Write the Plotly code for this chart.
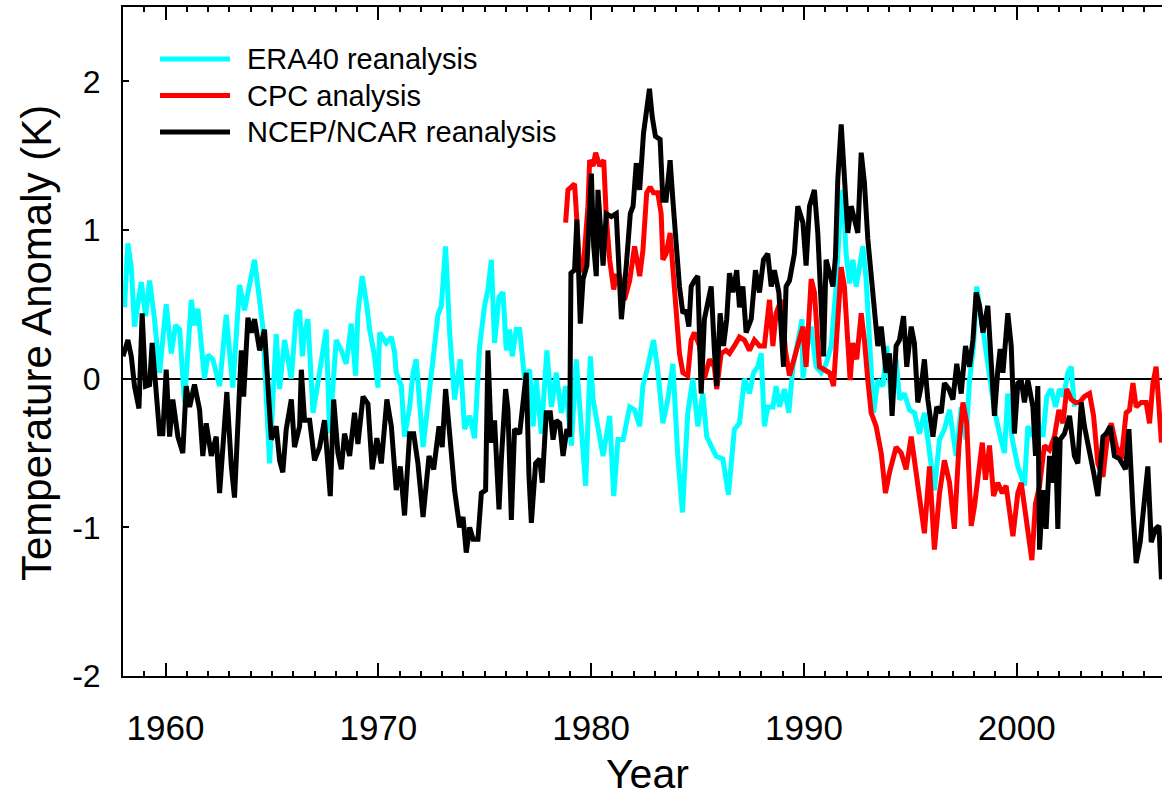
import plotly.graph_objects as go

# ---------------- data ----------------
era40_year = [1958.07, 1958.23, 1958.39, 1958.54, 1958.86, 1959.06, 1959.25, 1959.48, 1959.72, 1960.03,
              1960.27, 1960.47, 1960.66, 1960.89, 1961.21, 1961.36, 1961.52, 1961.83, 1961.99, 1962.22,
              1962.54, 1962.85, 1963.16, 1963.48, 1963.71, 1963.95, 1964.18, 1964.57, 1964.89, 1965.20,
              1965.36, 1965.59, 1965.91, 1966.14, 1966.30, 1966.43, 1966.53, 1966.69, 1966.93, 1967.08,
              1967.24, 1967.55, 1967.71, 1968.02, 1968.26, 1968.49, 1968.73, 1968.93, 1969.04, 1969.24,
              1969.46, 1969.59, 1969.82, 1969.98, 1970.06, 1970.37, 1970.61, 1970.76, 1970.84, 1971.08,
              1971.23, 1971.47, 1971.63, 1971.78, 1972.10, 1972.33, 1972.57, 1972.80, 1972.96, 1973.16,
              1973.35, 1973.58, 1973.85, 1974.05, 1974.29, 1974.52, 1974.76, 1974.99, 1975.15, 1975.31,
              1975.46, 1975.67, 1975.86, 1976.01, 1976.17, 1976.29, 1976.48, 1976.64, 1976.87, 1977.11,
              1977.27, 1977.42, 1977.66, 1977.92, 1978.13, 1978.36, 1978.60, 1978.80, 1979.07, 1979.30,
              1979.54, 1979.74, 1979.96, 1980.09, 1980.37, 1980.56, 1980.87, 1981.06, 1981.26, 1981.50,
              1981.81, 1982.04, 1982.28, 1982.43, 1982.66, 1982.93, 1983.13, 1983.37, 1983.60, 1983.84,
              1984.07, 1984.29, 1984.54, 1984.78, 1985.01, 1985.25, 1985.43, 1985.64, 1985.87, 1986.19,
              1986.45, 1986.73, 1986.97, 1987.20, 1987.44, 1987.63, 1987.83, 1987.99, 1988.14, 1988.30,
              1988.54, 1988.69, 1988.85, 1989.08, 1989.29, 1989.48, 1989.71, 1989.91, 1989.95, 1990.10,
              1990.34, 1990.57, 1990.81, 1991.04, 1991.28, 1991.51, 1991.70, 1991.83, 1991.98, 1992.14,
              1992.30, 1992.45, 1992.61, 1992.77, 1992.92, 1993.08, 1993.27, 1993.47, 1993.71, 1993.89,
              1994.10, 1994.33, 1994.49, 1994.72, 1994.96, 1995.19, 1995.43, 1995.66, 1995.90, 1996.13,
              1996.37, 1996.60, 1996.84, 1997.15, 1997.39, 1997.62, 1997.78, 1997.97, 1998.12, 1998.25,
              1998.33, 1998.48, 1998.72, 1998.95, 1999.19, 1999.42, 1999.58, 1999.79, 2000.05, 2000.36,
              2000.52, 2000.76, 2000.99, 2001.23, 2001.41, 2001.62, 2001.82, 2002.01, 2002.20, 2002.40,
              2002.56, 2002.71]
era40_anom = [0.48, 0.91, 0.75, 0.35, 0.65, 0.42, 0.66, 0.40, 0.04, 0.50,
              0.17, 0.36, 0.33, -0.16, 0.53, 0.36, 0.47, 0.00, 0.16, 0.13,
              -0.05, 0.43, -0.06, 0.63, 0.46, 0.62, 0.80, 0.35, -0.57, 0.30,
              -0.07, 0.26, 0.00, 0.44, 0.46, 0.15, 0.31, 0.40, -0.23, -0.10,
              0.04, 0.33, -0.37, 0.26, 0.19, 0.10, 0.37, 0.02, 0.44, 0.69,
              0.49, 0.33, 0.15, -0.06, 0.31, 0.24, 0.28, 0.18, 0.04, -0.05,
              -0.39, -0.19, 0.04, 0.13, -0.46, -0.14, 0.13, 0.43, 0.49, 0.89,
              0.31, -0.14, 0.13, -0.34, -0.25, -0.40, 0.22, 0.49, 0.60, 0.80,
              0.24, 0.55, 0.58, 0.19, 0.33, 0.15, 0.33, 0.33, 0.00, 0.06,
              -0.32, -0.01, -0.37, 0.19, -0.19, 0.04, -0.23, -0.05, -0.45, 0.13,
              -0.32, -0.72, 0.15, -0.14, -0.37, -0.52, -0.25, -0.79, -0.41, -0.41,
              -0.19, -0.21, -0.32, -0.05, 0.08, 0.26, 0.06, -0.30, -0.14, 0.10,
              -0.52, -0.90, -0.23, 0.00, -0.32, -0.10, -0.39, -0.45, -0.52, -0.54,
              -0.78, -0.34, -0.30, 0.00, -0.10, 0.04, 0.08, 0.17, -0.32, -0.19,
              -0.19, -0.05, -0.19, -0.07, -0.23, 0.08, 0.24, 0.40, 0.00, 0.17,
              0.35, 0.08, 0.04, 0.10, 0.22, 0.62, 1.11, 1.27, 0.84, 0.64,
              0.80, 0.62, 0.75, 0.89, 0.67, 0.31, -0.23, -0.01, -0.05, 0.22,
              -0.14, 0.13, -0.14, -0.10, -0.21, -0.23, -0.37, -0.23, -0.50, -0.75,
              -0.41, -0.34, -0.21, -0.52, -0.19, -0.41, -0.01, 0.22, 0.62, 0.49,
              0.42, 0.24, 0.02, -0.21, -0.37, -0.50, -0.10, -0.41, -0.59, -0.72,
              -0.32, -0.39, -0.30, -0.39, -0.12, -0.07, -0.19, -0.07, -0.12, 0.04,
              0.08, -0.19]

cpc_year = [1978.80, 1978.91, 1979.07, 1979.22, 1979.30, 1979.46, 1979.62, 1979.85, 1979.93, 1980.09,
            1980.21, 1980.40, 1980.59, 1980.71, 1980.87, 1981.06, 1981.18, 1981.34, 1981.57, 1981.81,
            1982.04, 1982.28, 1982.43, 1982.61, 1982.77, 1982.93, 1983.13, 1983.29, 1983.37, 1983.52,
            1983.71, 1983.84, 1983.99, 1984.15, 1984.31, 1984.54, 1984.70, 1984.85, 1985.09, 1985.32,
            1985.56, 1985.79, 1985.90, 1986.11, 1986.34, 1986.50, 1986.73, 1986.97, 1987.20, 1987.44,
            1987.67, 1987.91, 1988.14, 1988.38, 1988.54, 1988.69, 1988.93, 1989.13, 1989.32, 1989.55,
            1989.79, 1989.95, 1990.10, 1990.34, 1990.49, 1990.73, 1990.96, 1991.20, 1991.39, 1991.51,
            1991.75, 1991.90, 1992.06, 1992.17, 1992.30, 1992.48, 1992.69, 1992.84, 1993.00, 1993.16,
            1993.39, 1993.63, 1993.83, 1994.02, 1994.33, 1994.57, 1994.80, 1995.04, 1995.27, 1995.46,
            1995.66, 1995.90, 1996.13, 1996.37, 1996.60, 1996.84, 1997.07, 1997.28, 1997.47, 1997.65,
            1997.86, 1998.01, 1998.25, 1998.38, 1998.53, 1998.72, 1998.91, 1999.11, 1999.32, 1999.50,
            1999.82, 2000.05, 2000.21, 2000.44, 2000.71, 2000.88, 2001.07, 2001.30, 2001.54, 2001.77,
            2001.98, 2002.17, 2002.35, 2002.56, 2002.76, 2002.95, 2003.18, 2003.42, 2003.61, 2003.81,
            2004.05, 2004.23, 2004.44, 2004.67, 2004.91, 2005.14, 2005.30, 2005.46, 2005.61, 2005.85,
            2006.08, 2006.24, 2006.40, 2006.55, 2006.71, 2006.80]
cpc_anom = [1.05, 1.27, 1.29, 1.31, 1.13, 0.73, 0.73, 1.16, 1.47, 1.43,
            1.52, 1.43, 1.47, 1.09, 0.80, 0.60, 0.69, 0.69, 0.53, 0.66,
            0.89, 0.69, 0.86, 1.25, 1.29, 1.25, 1.25, 1.11, 0.80, 0.84,
            0.98, 0.71, 0.44, 0.17, 0.04, 0.02, 0.26, 0.31, 0.22, 0.00,
            0.13, 0.08, -0.07, 0.17, 0.19, 0.17, 0.22, 0.28, 0.26, 0.19,
            0.26, 0.22, 0.22, 0.53, 0.22, 0.44, 0.53, 0.19, 0.02, 0.13,
            0.26, 0.35, 0.08, 0.67, 0.58, 0.08, 0.06, 0.04, -0.05, 0.22,
            0.75, 0.62, 0.26, -0.01, 0.24, 0.13, 0.44, 0.26, -0.01, -0.23,
            -0.32, -0.50, -0.77, -0.63, -0.46, -0.50, -0.61, -0.39, -0.63, -0.84,
            -1.04, -0.59, -1.15, -0.77, -0.55, -0.70, -1.01, -0.46, -0.16, -0.30,
            -0.99, -0.86, -0.59, -0.43, -0.68, -0.45, -0.79, -0.70, -0.77, -0.72,
            -1.06, -0.77, -0.70, -0.97, -1.22, -0.84, -0.72, -0.45, -0.48, -0.39,
            -0.21, -0.30, -0.07, -0.14, -0.16, -0.16, -0.12, -0.10, -0.25, -0.57,
            -0.66, -0.43, -0.30, -0.45, -0.54, -0.23, -0.21, -0.03, -0.19, -0.16,
            -0.16, -0.30, -0.03, 0.08, -0.23, -0.43]

ncep_year = [1958.00, 1958.23, 1958.39, 1958.54, 1958.75, 1958.90, 1959.06, 1959.25, 1959.37, 1959.56,
             1959.72, 1959.87, 1960.03, 1960.19, 1960.34, 1960.58, 1960.81, 1960.97, 1961.13, 1961.36,
             1961.60, 1961.75, 1961.91, 1962.15, 1962.38, 1962.54, 1962.69, 1962.88, 1963.09, 1963.24,
             1963.56, 1963.67, 1963.87, 1964.03, 1964.18, 1964.42, 1964.65, 1964.81, 1964.97, 1965.20,
             1965.36, 1965.51, 1965.67, 1965.91, 1966.06, 1966.30, 1966.38, 1966.53, 1966.77, 1967.00,
             1967.24, 1967.47, 1967.74, 1967.90, 1968.10, 1968.26, 1968.41, 1968.65, 1968.88, 1969.04,
             1969.28, 1969.51, 1969.71, 1969.93, 1970.14, 1970.40, 1970.61, 1970.84, 1971.03, 1971.23,
             1971.47, 1971.66, 1971.86, 1972.10, 1972.38, 1972.60, 1972.85, 1973.00, 1973.16, 1973.35,
             1973.58, 1973.82, 1973.98, 1974.13, 1974.29, 1974.45, 1974.68, 1974.84, 1975.04, 1975.15,
             1975.31, 1975.46, 1975.67, 1975.78, 1975.98, 1976.09, 1976.25, 1976.40, 1976.64, 1976.80,
             1976.95, 1977.08, 1977.19, 1977.39, 1977.58, 1977.70, 1977.89, 1978.08, 1978.21, 1978.36,
             1978.52, 1978.68, 1978.86, 1978.99, 1979.05, 1979.22, 1979.33, 1979.49, 1979.62, 1979.80,
             1980.01, 1980.12, 1980.24, 1980.32, 1980.48, 1980.56, 1980.71, 1980.95, 1981.18, 1981.42,
             1981.65, 1981.84, 1981.97, 1982.12, 1982.28, 1982.46, 1982.61, 1982.74, 1982.87, 1983.02,
             1983.24, 1983.37, 1983.52, 1983.71, 1983.84, 1983.99, 1984.15, 1984.31, 1984.46, 1984.59,
             1984.70, 1984.85, 1985.01, 1985.17, 1985.32, 1985.48, 1985.64, 1985.79, 1985.90, 1986.06,
             1986.22, 1986.37, 1986.50, 1986.66, 1986.84, 1986.97, 1987.13, 1987.28, 1987.52, 1987.72,
             1987.91, 1988.10, 1988.30, 1988.46, 1988.61, 1988.82, 1989.04, 1989.16, 1989.32, 1989.55,
             1989.71, 1989.95, 1990.10, 1990.26, 1990.49, 1990.65, 1990.81, 1990.92, 1991.04, 1991.20,
             1991.36, 1991.48, 1991.59, 1991.75, 1991.90, 1992.06, 1992.22, 1992.37, 1992.53, 1992.69,
             1992.84, 1993.00, 1993.16, 1993.31, 1993.47, 1993.63, 1993.86, 1994.02, 1994.14, 1994.33,
             1994.49, 1994.68, 1994.83, 1995.04, 1995.19, 1995.35, 1995.51, 1995.66, 1995.82, 1996.06,
             1996.24, 1996.45, 1996.60, 1996.81, 1997.00, 1997.18, 1997.39, 1997.59, 1997.78, 1997.94,
             1998.09, 1998.25, 1998.41, 1998.64, 1998.80, 1998.95, 1999.11, 1999.22, 1999.35, 1999.47,
             1999.58, 1999.74, 1999.89, 2000.05, 2000.21, 2000.36, 2000.52, 2000.76, 2000.88, 2000.99,
             2001.07, 2001.23, 2001.38, 2001.54, 2001.70, 2001.82, 2001.93, 2002.04, 2002.24, 2002.48,
             2002.71, 2002.87, 2003.03, 2003.18, 2003.42, 2003.61, 2003.81, 2004.05, 2004.20, 2004.39,
             2004.59, 2004.83, 2005.11, 2005.27, 2005.46, 2005.61, 2005.80, 2006.00, 2006.16, 2006.32,
             2006.52, 2006.68, 2006.80]
ncep_anom = [0.15, 0.26, 0.15, -0.05, -0.20, 0.44, -0.05, -0.04, 0.24, -0.14,
             -0.37, -0.37, 0.06, -0.39, -0.14, -0.39, -0.50, -0.05, -0.19, -0.04,
             -0.21, -0.52, -0.30, -0.52, -0.39, -0.77, -0.46, -0.09, -0.59, -0.80,
             0.19, -0.12, 0.41, 0.31, 0.40, 0.19, 0.33, -0.10, -0.41, -0.32,
             -0.55, -0.63, -0.34, -0.14, -0.46, -0.32, 0.06, -0.28, -0.28, -0.55,
             -0.46, -0.28, -0.79, -0.14, -0.50, -0.61, -0.37, -0.52, -0.23, -0.44,
             -0.12, -0.17, -0.61, -0.40, -0.57, -0.14, -0.32, -0.75, -0.59, -0.92,
             -0.37, -0.37, -0.57, -0.93, -0.52, -0.61, -0.32, -0.46, -0.07, -0.37,
             -0.75, -1.00, -0.93, -1.17, -1.00, -1.08, -1.08, -0.77, -0.75, 0.19,
             -0.43, -0.28, -0.88, -0.54, -0.07, -0.21, -0.95, -0.34, -0.37, -0.16,
             0.04, -0.66, -0.97, -0.57, -0.54, -0.70, -0.23, -0.23, -0.41, -0.28,
             -0.30, -0.52, -0.34, -0.39, 0.71, 0.73, 1.07, 0.37, 0.67, 0.76,
             1.38, 0.89, 0.69, 1.27, 0.89, 0.76, 1.11, 1.09, 1.11, 0.40,
             0.76, 1.11, 1.16, 1.45, 1.27, 1.65, 1.81, 1.95, 1.76, 1.63,
             1.61, 1.20, 1.20, 1.47, 1.20, 0.89, 0.62, 0.44, 0.46, 0.35,
             0.62, 0.66, 0.69, -0.10, 0.40, 0.51, 0.62, 0.19, -0.05, 0.44,
             0.22, 0.40, 0.71, 0.58, 0.73, 0.48, 0.62, 0.31, 0.40, 0.73,
             0.58, 0.80, 0.84, 0.62, 0.73, 0.58, 0.08, 0.62, 0.66, 0.84,
             1.16, 1.05, 0.76, 1.16, 1.27, 0.98, 0.49, 0.15, 0.80, 0.71,
             0.62, 0.82, 1.34, 1.71, 1.34, 0.98, 1.16, 1.07, 0.98, 1.52,
             1.32, 0.94, 0.67, 0.40, 0.22, 0.35, 0.04, 0.17, -0.25, 0.22,
             0.26, 0.42, 0.08, 0.35, 0.24, -0.16, -0.05, 0.13, -0.14, -0.39,
             -0.19, -0.23, -0.03, -0.07, -0.14, 0.10, -0.10, 0.22, 0.08, 0.26,
             0.58, 0.49, 0.31, 0.49, 0.11, -0.25, 0.06, 0.20, 0.04, 0.28,
             0.44, 0.22, -0.37, -0.03, -0.01, -0.16, -0.01, -0.19, -0.52, -0.05,
             -1.15, -0.75, -1.01, -0.52, -0.70, -0.39, -1.01, -0.41, -0.37, -0.25,
             -0.52, -0.57, -0.16, -0.32, -0.48, -0.63, -0.79, -0.39, -0.37, -0.32,
             -0.52, -0.54, -0.61, -0.34, -0.88, -1.24, -1.10, -0.79, -0.59, -1.10,
             -1.01, -0.99, -1.35]

series_names = ["ERA40 reanalysis", "CPC analysis", "NCEP/NCAR reanalysis"]
series_colors = ["#00FFFF", "#FF0000", "#000000"]
x_tick_values = [1960, 1970, 1980, 1990, 2000]
y_tick_values = [-2, -1, 0, 1, 2]

# ---------------- figure ----------------
W, H = 1162, 800
ML, MR, MT, MB = 123, 0, 7, 124
PW, PH = W - ML - MR, H - MT - MB
FONT = "Arial, Liberation Sans, sans-serif"


def px_to_paper(px, py):
    return (px - ML) / PW, (H - MB - py) / PH


fig = go.Figure()
for xs, ys, name, col in [(era40_year, era40_anom, series_names[0], series_colors[0]),
                          (cpc_year, cpc_anom, series_names[1], series_colors[1]),
                          (ncep_year, ncep_anom, series_names[2], series_colors[2])]:
    fig.add_trace(go.Scatter(x=xs, y=ys, mode="lines", name=name,
                             line=dict(color=col, width=5), showlegend=False))

# manual legend (long line samples as in the reference)
shapes = []
annotations = []
for i, (name, col) in enumerate(zip(series_names, series_colors)):
    row_py = 59 + i * 36.5
    x0, y0 = px_to_paper(160, row_py)
    x1, _ = px_to_paper(230, row_py)
    xt, _ = px_to_paper(245, row_py)
    shapes.append(dict(type="line", xref="paper", yref="paper", x0=x0, x1=x1, y0=y0, y1=y0,
                       line=dict(color=col, width=5)))
    annotations.append(dict(xref="paper", yref="paper", x=xt, y=y0, xanchor="left", yanchor="middle",
                            text=name, showarrow=False, font=dict(family=FONT, size=29, color="black")))

ax, ay = px_to_paper(647, 774)
annotations.append(dict(xref="paper", yref="paper", x=ax, y=ay, xanchor="center", yanchor="middle",
                        text="Year", showarrow=False, font=dict(family=FONT, size=41, color="black")))
ax, ay = px_to_paper(36, 343)
annotations.append(dict(xref="paper", yref="paper", x=ax, y=ay, xanchor="center", yanchor="middle",
                        text="Temperature Anomaly (K)", textangle=-90, showarrow=False,
                        font=dict(family=FONT, size=42, color="black")))

fig.update_layout(
    width=W, height=H,
    margin=dict(l=ML, r=MR, t=MT, b=MB, pad=0),
    paper_bgcolor="white", plot_bgcolor="white",
    shapes=shapes, annotations=annotations,
    showlegend=False,
    xaxis=dict(range=[1958, 1958 + PW / 21.28], tickmode="array", tickvals=x_tick_values,
               ticks="inside", ticklen=13, tickwidth=2, tickcolor="black",
               minor=dict(tickmode="linear", tick0=1958, dtick=1, ticks="inside", ticklen=5,
                          tickwidth=1.5, tickcolor="black", showgrid=False),
               showline=True, linecolor="black", linewidth=2, mirror="ticks",
               showgrid=False, zeroline=False, ticklabelstandoff=20,
               tickfont=dict(family=FONT, size=35, color="black")),
    yaxis=dict(range=[-2, 2.5], tickmode="array", tickvals=y_tick_values,
               ticktext=[str(v) for v in y_tick_values],
               ticks="inside", ticklen=6, tickwidth=2, tickcolor="black",
               showline=True, linecolor="black", linewidth=2, mirror=False,
               showgrid=False, zeroline=True, zerolinecolor="black", zerolinewidth=1.5,
               ticklabelstandoff=14,
               tickfont=dict(family=FONT, size=32, color="black")),
)

fig.write_html("out.html")
